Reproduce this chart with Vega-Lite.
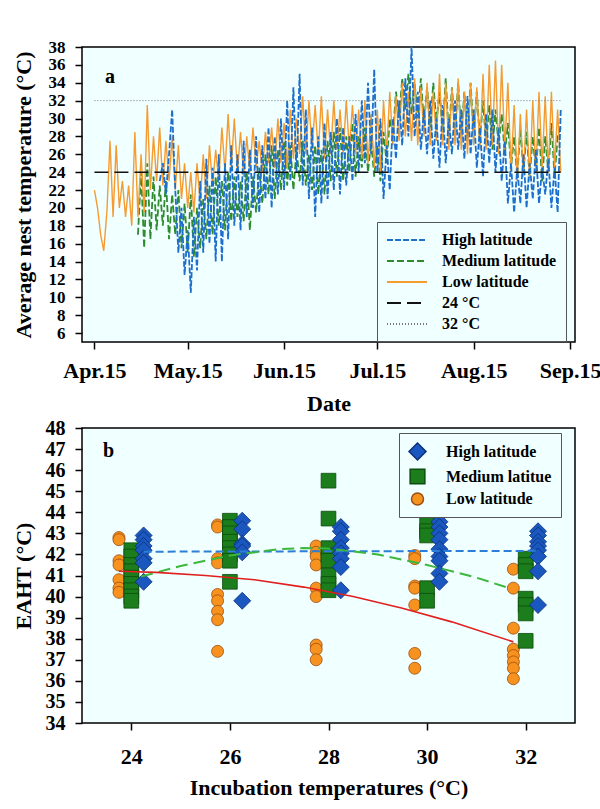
{
  "$schema": "https://vega.github.io/schema/vega-lite/v6.json",
  "padding": {"left": 11, "top": 37, "right": 2, "bottom": 2},
  "spacing": 2,
  "config": {
    "font": "Liberation Serif",
    "background": "white",
    "view": {"stroke": "#000", "strokeWidth": 1.5, "fill": "#f0ffff"},
    "axis": {
      "labelFont": "Liberation Serif", "titleFont": "Liberation Serif",
      "labelFontSize": 22, "titleFontSize": 22,
      "labelFontWeight": "bold", "titleFontWeight": "bold",
      "labelColor": "#000", "titleColor": "#000",
      "tickColor": "#000", "tickWidth": 1.5, "tickSize": 7,
      "domain": false, "grid": false, "labelPadding": 10, "labelFlush": false
    },
    "axisY": {"titlePadding": 9, "labelOverlap": false, "minExtent": 38},
    "legend": {
      "labelFont": "Liberation Serif", "labelFontSize": 16, "labelFontWeight": "bold",
      "labelColor": "#000", "strokeColor": "#555", "fillColor": "#f0ffff",
      "padding": 8, "rowPadding": 4, "labelLimit": 300
    }
  },
  "resolve": {
    "scale": {"color": "independent", "strokeDash": "independent", "shape": "independent", "size": "independent", "stroke": "independent"},
    "legend": {"color": "independent", "strokeDash": "independent", "shape": "independent", "size": "independent", "stroke": "independent"}
  },
  "datasets": {
    "ts": [
      {"s":"Low latitude","d":"2015-04-15","t":22},{"s":"Low latitude","d":"2015-04-16","t":20},{"s":"Low latitude","d":"2015-04-17","t":17},{"s":"Low latitude","d":"2015-04-18","t":15.2},
      {"s":"Low latitude","d":"2015-04-19","t":19.5},{"s":"Low latitude","d":"2015-04-20","t":27.5},{"s":"Low latitude","d":"2015-04-21","t":19},{"s":"Low latitude","d":"2015-04-22","t":27},
      {"s":"Low latitude","d":"2015-04-23","t":20},{"s":"Low latitude","d":"2015-04-24","t":23},{"s":"Low latitude","d":"2015-04-25","t":19},{"s":"Low latitude","d":"2015-04-26","t":22.5},
      {"s":"Low latitude","d":"2015-04-27","t":18},{"s":"Low latitude","d":"2015-04-28","t":28.5},{"s":"Low latitude","d":"2015-04-29","t":19},{"s":"Low latitude","d":"2015-04-30","t":26},
      {"s":"Low latitude","d":"2015-05-01","t":19.5},{"s":"Low latitude","d":"2015-05-02","t":31.5},{"s":"Low latitude","d":"2015-05-03","t":22},{"s":"Low latitude","d":"2015-05-04","t":28},
      {"s":"Low latitude","d":"2015-05-05","t":23},{"s":"Low latitude","d":"2015-05-06","t":29},{"s":"Low latitude","d":"2015-05-07","t":22.5},{"s":"Low latitude","d":"2015-05-08","t":27.5},
      {"s":"Low latitude","d":"2015-05-09","t":23},{"s":"Low latitude","d":"2015-05-10","t":28},{"s":"Low latitude","d":"2015-05-11","t":22},{"s":"Low latitude","d":"2015-05-12","t":27},
      {"s":"Low latitude","d":"2015-05-13","t":21},{"s":"Low latitude","d":"2015-05-14","t":25},{"s":"Low latitude","d":"2015-05-15","t":20},{"s":"Low latitude","d":"2015-05-16","t":24},
      {"s":"Low latitude","d":"2015-05-17","t":19.5},{"s":"Low latitude","d":"2015-05-18","t":25},{"s":"Low latitude","d":"2015-05-19","t":20.5},{"s":"Low latitude","d":"2015-05-20","t":26},
      {"s":"Low latitude","d":"2015-05-21","t":21},{"s":"Low latitude","d":"2015-05-22","t":27},{"s":"Low latitude","d":"2015-05-23","t":22.5},{"s":"Low latitude","d":"2015-05-24","t":26.5},
      {"s":"Low latitude","d":"2015-05-25","t":23},{"s":"Low latitude","d":"2015-05-26","t":29},{"s":"Low latitude","d":"2015-05-27","t":24},{"s":"Low latitude","d":"2015-05-28","t":30.5},
      {"s":"Low latitude","d":"2015-05-29","t":24.5},{"s":"Low latitude","d":"2015-05-30","t":30},{"s":"Low latitude","d":"2015-05-31","t":24},
      {"s":"Low latitude","d":"2015-06-01","t":28.5},{"s":"Low latitude","d":"2015-06-02","t":23.5},{"s":"Low latitude","d":"2015-06-03","t":28},{"s":"Low latitude","d":"2015-06-04","t":24},
      {"s":"Low latitude","d":"2015-06-05","t":29},{"s":"Low latitude","d":"2015-06-06","t":24.5},{"s":"Low latitude","d":"2015-06-07","t":27.5},{"s":"Low latitude","d":"2015-06-08","t":24},
      {"s":"Low latitude","d":"2015-06-09","t":28.5},{"s":"Low latitude","d":"2015-06-10","t":25},{"s":"Low latitude","d":"2015-06-11","t":29},{"s":"Low latitude","d":"2015-06-12","t":24.5},
      {"s":"Low latitude","d":"2015-06-13","t":30},{"s":"Low latitude","d":"2015-06-14","t":25},{"s":"Low latitude","d":"2015-06-15","t":29.5},{"s":"Low latitude","d":"2015-06-16","t":24.5},
      {"s":"Low latitude","d":"2015-06-17","t":31},{"s":"Low latitude","d":"2015-06-18","t":25.5},{"s":"Low latitude","d":"2015-06-19","t":30},{"s":"Low latitude","d":"2015-06-20","t":26},
      {"s":"Low latitude","d":"2015-06-21","t":32.5},{"s":"Low latitude","d":"2015-06-22","t":26},{"s":"Low latitude","d":"2015-06-23","t":32},{"s":"Low latitude","d":"2015-06-24","t":26.5},
      {"s":"Low latitude","d":"2015-06-25","t":31.5},{"s":"Low latitude","d":"2015-06-26","t":26},{"s":"Low latitude","d":"2015-06-27","t":32.5},{"s":"Low latitude","d":"2015-06-28","t":25.5},
      {"s":"Low latitude","d":"2015-06-29","t":31},{"s":"Low latitude","d":"2015-06-30","t":26},
      {"s":"Low latitude","d":"2015-07-01","t":32},{"s":"Low latitude","d":"2015-07-02","t":26.5},{"s":"Low latitude","d":"2015-07-03","t":31},{"s":"Low latitude","d":"2015-07-04","t":26},
      {"s":"Low latitude","d":"2015-07-05","t":32},{"s":"Low latitude","d":"2015-07-06","t":26.5},{"s":"Low latitude","d":"2015-07-07","t":31.5},{"s":"Low latitude","d":"2015-07-08","t":26},
      {"s":"Low latitude","d":"2015-07-09","t":31},{"s":"Low latitude","d":"2015-07-10","t":25.5},{"s":"Low latitude","d":"2015-07-11","t":32},{"s":"Low latitude","d":"2015-07-12","t":25},
      {"s":"Low latitude","d":"2015-07-13","t":30.5},{"s":"Low latitude","d":"2015-07-14","t":24.5},{"s":"Low latitude","d":"2015-07-15","t":31},{"s":"Low latitude","d":"2015-07-16","t":24},
      {"s":"Low latitude","d":"2015-07-17","t":32},{"s":"Low latitude","d":"2015-07-18","t":26},{"s":"Low latitude","d":"2015-07-19","t":33},{"s":"Low latitude","d":"2015-07-20","t":27},
      {"s":"Low latitude","d":"2015-07-21","t":32.5},{"s":"Low latitude","d":"2015-07-22","t":27.5},{"s":"Low latitude","d":"2015-07-23","t":34},{"s":"Low latitude","d":"2015-07-24","t":28},
      {"s":"Low latitude","d":"2015-07-25","t":33},{"s":"Low latitude","d":"2015-07-26","t":27.5},{"s":"Low latitude","d":"2015-07-27","t":34.5},{"s":"Low latitude","d":"2015-07-28","t":27},
      {"s":"Low latitude","d":"2015-07-29","t":33.5},{"s":"Low latitude","d":"2015-07-30","t":28},{"s":"Low latitude","d":"2015-07-31","t":34},
      {"s":"Low latitude","d":"2015-08-01","t":27},{"s":"Low latitude","d":"2015-08-02","t":33},{"s":"Low latitude","d":"2015-08-03","t":27.5},{"s":"Low latitude","d":"2015-08-04","t":35},
      {"s":"Low latitude","d":"2015-08-05","t":27},{"s":"Low latitude","d":"2015-08-06","t":34},{"s":"Low latitude","d":"2015-08-07","t":26.5},{"s":"Low latitude","d":"2015-08-08","t":33.5},
      {"s":"Low latitude","d":"2015-08-09","t":27},{"s":"Low latitude","d":"2015-08-10","t":34.5},{"s":"Low latitude","d":"2015-08-11","t":26.5},{"s":"Low latitude","d":"2015-08-12","t":33},
      {"s":"Low latitude","d":"2015-08-13","t":26},{"s":"Low latitude","d":"2015-08-14","t":34},{"s":"Low latitude","d":"2015-08-15","t":27},{"s":"Low latitude","d":"2015-08-16","t":33.5},
      {"s":"Low latitude","d":"2015-08-17","t":26.5},{"s":"Low latitude","d":"2015-08-18","t":35},{"s":"Low latitude","d":"2015-08-19","t":26.5},{"s":"Low latitude","d":"2015-08-20","t":36},
      {"s":"Low latitude","d":"2015-08-21","t":27},{"s":"Low latitude","d":"2015-08-22","t":36.5},{"s":"Low latitude","d":"2015-08-23","t":26},{"s":"Low latitude","d":"2015-08-24","t":36},
      {"s":"Low latitude","d":"2015-08-25","t":26.5},{"s":"Low latitude","d":"2015-08-26","t":34},{"s":"Low latitude","d":"2015-08-27","t":24},{"s":"Low latitude","d":"2015-08-28","t":31.5},
      {"s":"Low latitude","d":"2015-08-29","t":23},{"s":"Low latitude","d":"2015-08-30","t":30.5},{"s":"Low latitude","d":"2015-08-31","t":23.5},
      {"s":"Low latitude","d":"2015-09-01","t":31},{"s":"Low latitude","d":"2015-09-02","t":23},{"s":"Low latitude","d":"2015-09-03","t":32},{"s":"Low latitude","d":"2015-09-04","t":24},
      {"s":"Low latitude","d":"2015-09-05","t":33},{"s":"Low latitude","d":"2015-09-06","t":24.5},{"s":"Low latitude","d":"2015-09-07","t":32.5},{"s":"Low latitude","d":"2015-09-08","t":24},
      {"s":"Low latitude","d":"2015-09-09","t":33},{"s":"Low latitude","d":"2015-09-10","t":24.5},{"s":"Low latitude","d":"2015-09-11","t":31},{"s":"Low latitude","d":"2015-09-12","t":24},

      {"s":"Medium latitude","d":"2015-04-29","t":17},{"s":"Medium latitude","d":"2015-04-30","t":24},
      {"s":"Medium latitude","d":"2015-05-01","t":15.5},{"s":"Medium latitude","d":"2015-05-02","t":25},{"s":"Medium latitude","d":"2015-05-03","t":16.5},{"s":"Medium latitude","d":"2015-05-04","t":23.5},
      {"s":"Medium latitude","d":"2015-05-05","t":17.5},{"s":"Medium latitude","d":"2015-05-06","t":22.5},{"s":"Medium latitude","d":"2015-05-07","t":18},{"s":"Medium latitude","d":"2015-05-08","t":23},
      {"s":"Medium latitude","d":"2015-05-09","t":16.5},{"s":"Medium latitude","d":"2015-05-10","t":21.5},{"s":"Medium latitude","d":"2015-05-11","t":17},{"s":"Medium latitude","d":"2015-05-12","t":22},
      {"s":"Medium latitude","d":"2015-05-13","t":15.5},{"s":"Medium latitude","d":"2015-05-14","t":20.5},{"s":"Medium latitude","d":"2015-05-15","t":15},{"s":"Medium latitude","d":"2015-05-16","t":21.5},
      {"s":"Medium latitude","d":"2015-05-17","t":14.5},{"s":"Medium latitude","d":"2015-05-18","t":20},{"s":"Medium latitude","d":"2015-05-19","t":15.5},{"s":"Medium latitude","d":"2015-05-20","t":21},
      {"s":"Medium latitude","d":"2015-05-21","t":16.5},{"s":"Medium latitude","d":"2015-05-22","t":22.5},{"s":"Medium latitude","d":"2015-05-23","t":17},{"s":"Medium latitude","d":"2015-05-24","t":23.5},
      {"s":"Medium latitude","d":"2015-05-25","t":18},{"s":"Medium latitude","d":"2015-05-26","t":23},{"s":"Medium latitude","d":"2015-05-27","t":17.5},{"s":"Medium latitude","d":"2015-05-28","t":24},
      {"s":"Medium latitude","d":"2015-05-29","t":18.5},{"s":"Medium latitude","d":"2015-05-30","t":23.5},{"s":"Medium latitude","d":"2015-05-31","t":19},
      {"s":"Medium latitude","d":"2015-06-01","t":23},{"s":"Medium latitude","d":"2015-06-02","t":18.5},{"s":"Medium latitude","d":"2015-06-03","t":24},{"s":"Medium latitude","d":"2015-06-04","t":17.5},
      {"s":"Medium latitude","d":"2015-06-05","t":23.5},{"s":"Medium latitude","d":"2015-06-06","t":19.5},{"s":"Medium latitude","d":"2015-06-07","t":24.5},{"s":"Medium latitude","d":"2015-06-08","t":20.5},
      {"s":"Medium latitude","d":"2015-06-09","t":26},{"s":"Medium latitude","d":"2015-06-10","t":21.5},{"s":"Medium latitude","d":"2015-06-11","t":27},{"s":"Medium latitude","d":"2015-06-12","t":21},
      {"s":"Medium latitude","d":"2015-06-13","t":26.5},{"s":"Medium latitude","d":"2015-06-14","t":22},{"s":"Medium latitude","d":"2015-06-15","t":27.5},{"s":"Medium latitude","d":"2015-06-16","t":22.5},
      {"s":"Medium latitude","d":"2015-06-17","t":27},{"s":"Medium latitude","d":"2015-06-18","t":22},{"s":"Medium latitude","d":"2015-06-19","t":26.5},{"s":"Medium latitude","d":"2015-06-20","t":23},
      {"s":"Medium latitude","d":"2015-06-21","t":27.5},{"s":"Medium latitude","d":"2015-06-22","t":22.5},{"s":"Medium latitude","d":"2015-06-23","t":26},{"s":"Medium latitude","d":"2015-06-24","t":22},
      {"s":"Medium latitude","d":"2015-06-25","t":27},{"s":"Medium latitude","d":"2015-06-26","t":21.5},{"s":"Medium latitude","d":"2015-06-27","t":26.5},{"s":"Medium latitude","d":"2015-06-28","t":21.5},
      {"s":"Medium latitude","d":"2015-06-29","t":27.5},{"s":"Medium latitude","d":"2015-06-30","t":23},
      {"s":"Medium latitude","d":"2015-07-01","t":28.5},{"s":"Medium latitude","d":"2015-07-02","t":23.5},{"s":"Medium latitude","d":"2015-07-03","t":29},{"s":"Medium latitude","d":"2015-07-04","t":23},
      {"s":"Medium latitude","d":"2015-07-05","t":28},{"s":"Medium latitude","d":"2015-07-06","t":24},{"s":"Medium latitude","d":"2015-07-07","t":29.5},{"s":"Medium latitude","d":"2015-07-08","t":23.5},
      {"s":"Medium latitude","d":"2015-07-09","t":28},{"s":"Medium latitude","d":"2015-07-10","t":24.5},{"s":"Medium latitude","d":"2015-07-11","t":29},{"s":"Medium latitude","d":"2015-07-12","t":24},
      {"s":"Medium latitude","d":"2015-07-13","t":27.5},{"s":"Medium latitude","d":"2015-07-14","t":23.5},{"s":"Medium latitude","d":"2015-07-15","t":27},{"s":"Medium latitude","d":"2015-07-16","t":23},
      {"s":"Medium latitude","d":"2015-07-17","t":28.5},{"s":"Medium latitude","d":"2015-07-18","t":25},{"s":"Medium latitude","d":"2015-07-19","t":30},{"s":"Medium latitude","d":"2015-07-20","t":28},
      {"s":"Medium latitude","d":"2015-07-21","t":33},{"s":"Medium latitude","d":"2015-07-22","t":30},{"s":"Medium latitude","d":"2015-07-23","t":34.5},{"s":"Medium latitude","d":"2015-07-24","t":31},
      {"s":"Medium latitude","d":"2015-07-25","t":35},{"s":"Medium latitude","d":"2015-07-26","t":30.5},{"s":"Medium latitude","d":"2015-07-27","t":34},{"s":"Medium latitude","d":"2015-07-28","t":30},
      {"s":"Medium latitude","d":"2015-07-29","t":34.5},{"s":"Medium latitude","d":"2015-07-30","t":29.5},{"s":"Medium latitude","d":"2015-07-31","t":33.5},
      {"s":"Medium latitude","d":"2015-08-01","t":29},{"s":"Medium latitude","d":"2015-08-02","t":34},{"s":"Medium latitude","d":"2015-08-03","t":29.5},{"s":"Medium latitude","d":"2015-08-04","t":33},
      {"s":"Medium latitude","d":"2015-08-05","t":28.5},{"s":"Medium latitude","d":"2015-08-06","t":34.5},{"s":"Medium latitude","d":"2015-08-07","t":28},{"s":"Medium latitude","d":"2015-08-08","t":33.5},
      {"s":"Medium latitude","d":"2015-08-09","t":28.5},{"s":"Medium latitude","d":"2015-08-10","t":34},{"s":"Medium latitude","d":"2015-08-11","t":28},{"s":"Medium latitude","d":"2015-08-12","t":33},
      {"s":"Medium latitude","d":"2015-08-13","t":27.5},{"s":"Medium latitude","d":"2015-08-14","t":34},{"s":"Medium latitude","d":"2015-08-15","t":28},{"s":"Medium latitude","d":"2015-08-16","t":33},
      {"s":"Medium latitude","d":"2015-08-17","t":27.5},{"s":"Medium latitude","d":"2015-08-18","t":32},{"s":"Medium latitude","d":"2015-08-19","t":27},{"s":"Medium latitude","d":"2015-08-20","t":31.5},
      {"s":"Medium latitude","d":"2015-08-21","t":26.5},{"s":"Medium latitude","d":"2015-08-22","t":31},{"s":"Medium latitude","d":"2015-08-23","t":27},{"s":"Medium latitude","d":"2015-08-24","t":30.5},
      {"s":"Medium latitude","d":"2015-08-25","t":26},{"s":"Medium latitude","d":"2015-08-26","t":29.5},{"s":"Medium latitude","d":"2015-08-27","t":24.5},{"s":"Medium latitude","d":"2015-08-28","t":28},
      {"s":"Medium latitude","d":"2015-08-29","t":23.5},{"s":"Medium latitude","d":"2015-08-30","t":29},{"s":"Medium latitude","d":"2015-08-31","t":24},
      {"s":"Medium latitude","d":"2015-09-01","t":28.5},{"s":"Medium latitude","d":"2015-09-02","t":23.5},{"s":"Medium latitude","d":"2015-09-03","t":28},{"s":"Medium latitude","d":"2015-09-04","t":24},
      {"s":"Medium latitude","d":"2015-09-05","t":29},{"s":"Medium latitude","d":"2015-09-06","t":23},{"s":"Medium latitude","d":"2015-09-07","t":28},{"s":"Medium latitude","d":"2015-09-08","t":24},
      {"s":"Medium latitude","d":"2015-09-09","t":29.5},{"s":"Medium latitude","d":"2015-09-10","t":23.5},{"s":"Medium latitude","d":"2015-09-11","t":28},{"s":"Medium latitude","d":"2015-09-12","t":29},

      {"s":"High latitude","d":"2015-05-06","t":23},{"s":"High latitude","d":"2015-05-07","t":25},{"s":"High latitude","d":"2015-05-08","t":21.5},{"s":"High latitude","d":"2015-05-09","t":26},
      {"s":"High latitude","d":"2015-05-10","t":31},{"s":"High latitude","d":"2015-05-11","t":22},{"s":"High latitude","d":"2015-05-12","t":15},{"s":"High latitude","d":"2015-05-13","t":20},
      {"s":"High latitude","d":"2015-05-14","t":12.5},{"s":"High latitude","d":"2015-05-15","t":17.5},{"s":"High latitude","d":"2015-05-16","t":10.5},{"s":"High latitude","d":"2015-05-17","t":19},
      {"s":"High latitude","d":"2015-05-18","t":13},{"s":"High latitude","d":"2015-05-19","t":23},{"s":"High latitude","d":"2015-05-20","t":15},{"s":"High latitude","d":"2015-05-21","t":25.5},
      {"s":"High latitude","d":"2015-05-22","t":16},{"s":"High latitude","d":"2015-05-23","t":24.5},{"s":"High latitude","d":"2015-05-24","t":14},{"s":"High latitude","d":"2015-05-25","t":26},
      {"s":"High latitude","d":"2015-05-26","t":14},{"s":"High latitude","d":"2015-05-27","t":25},{"s":"High latitude","d":"2015-05-28","t":16.5},{"s":"High latitude","d":"2015-05-29","t":27},
      {"s":"High latitude","d":"2015-05-30","t":18},{"s":"High latitude","d":"2015-05-31","t":26},
      {"s":"High latitude","d":"2015-06-01","t":17.5},{"s":"High latitude","d":"2015-06-02","t":27.5},{"s":"High latitude","d":"2015-06-03","t":19},{"s":"High latitude","d":"2015-06-04","t":26.5},
      {"s":"High latitude","d":"2015-06-05","t":20},{"s":"High latitude","d":"2015-06-06","t":28},{"s":"High latitude","d":"2015-06-07","t":19.5},{"s":"High latitude","d":"2015-06-08","t":27},
      {"s":"High latitude","d":"2015-06-09","t":21},{"s":"High latitude","d":"2015-06-10","t":29},{"s":"High latitude","d":"2015-06-11","t":20},{"s":"High latitude","d":"2015-06-12","t":28},
      {"s":"High latitude","d":"2015-06-13","t":21.5},{"s":"High latitude","d":"2015-06-14","t":30},{"s":"High latitude","d":"2015-06-15","t":22},{"s":"High latitude","d":"2015-06-16","t":32},
      {"s":"High latitude","d":"2015-06-17","t":23},{"s":"High latitude","d":"2015-06-18","t":33.5},{"s":"High latitude","d":"2015-06-19","t":24},{"s":"High latitude","d":"2015-06-20","t":35},
      {"s":"High latitude","d":"2015-06-21","t":22.5},{"s":"High latitude","d":"2015-06-22","t":31},{"s":"High latitude","d":"2015-06-23","t":21},{"s":"High latitude","d":"2015-06-24","t":29},
      {"s":"High latitude","d":"2015-06-25","t":19},{"s":"High latitude","d":"2015-06-26","t":28},{"s":"High latitude","d":"2015-06-27","t":20.5},{"s":"High latitude","d":"2015-06-28","t":29.5},
      {"s":"High latitude","d":"2015-06-29","t":21},{"s":"High latitude","d":"2015-06-30","t":28.5},
      {"s":"High latitude","d":"2015-07-01","t":22},{"s":"High latitude","d":"2015-07-02","t":30},{"s":"High latitude","d":"2015-07-03","t":21.5},{"s":"High latitude","d":"2015-07-04","t":29},
      {"s":"High latitude","d":"2015-07-05","t":22.5},{"s":"High latitude","d":"2015-07-06","t":28},{"s":"High latitude","d":"2015-07-07","t":23},{"s":"High latitude","d":"2015-07-08","t":30.5},
      {"s":"High latitude","d":"2015-07-09","t":24},{"s":"High latitude","d":"2015-07-10","t":32},{"s":"High latitude","d":"2015-07-11","t":25},{"s":"High latitude","d":"2015-07-12","t":34},
      {"s":"High latitude","d":"2015-07-13","t":26},{"s":"High latitude","d":"2015-07-14","t":35.5},{"s":"High latitude","d":"2015-07-15","t":24},{"s":"High latitude","d":"2015-07-16","t":30},
      {"s":"High latitude","d":"2015-07-17","t":21},{"s":"High latitude","d":"2015-07-18","t":27},{"s":"High latitude","d":"2015-07-19","t":22},{"s":"High latitude","d":"2015-07-20","t":30},
      {"s":"High latitude","d":"2015-07-21","t":25.5},{"s":"High latitude","d":"2015-07-22","t":32},{"s":"High latitude","d":"2015-07-23","t":27},{"s":"High latitude","d":"2015-07-24","t":34.5},
      {"s":"High latitude","d":"2015-07-25","t":28},{"s":"High latitude","d":"2015-07-26","t":38},{"s":"High latitude","d":"2015-07-27","t":28},{"s":"High latitude","d":"2015-07-28","t":33},
      {"s":"High latitude","d":"2015-07-29","t":26.5},{"s":"High latitude","d":"2015-07-30","t":31},{"s":"High latitude","d":"2015-07-31","t":26},
      {"s":"High latitude","d":"2015-08-01","t":32},{"s":"High latitude","d":"2015-08-02","t":25.5},{"s":"High latitude","d":"2015-08-03","t":30},{"s":"High latitude","d":"2015-08-04","t":24.5},
      {"s":"High latitude","d":"2015-08-05","t":31.5},{"s":"High latitude","d":"2015-08-06","t":25},{"s":"High latitude","d":"2015-08-07","t":30},{"s":"High latitude","d":"2015-08-08","t":26},
      {"s":"High latitude","d":"2015-08-09","t":32},{"s":"High latitude","d":"2015-08-10","t":26.5},{"s":"High latitude","d":"2015-08-11","t":31},{"s":"High latitude","d":"2015-08-12","t":25.5},
      {"s":"High latitude","d":"2015-08-13","t":32.5},{"s":"High latitude","d":"2015-08-14","t":26},{"s":"High latitude","d":"2015-08-15","t":31},{"s":"High latitude","d":"2015-08-16","t":24.5},
      {"s":"High latitude","d":"2015-08-17","t":29},{"s":"High latitude","d":"2015-08-18","t":23.5},{"s":"High latitude","d":"2015-08-19","t":30.5},{"s":"High latitude","d":"2015-08-20","t":25},
      {"s":"High latitude","d":"2015-08-21","t":31},{"s":"High latitude","d":"2015-08-22","t":24},{"s":"High latitude","d":"2015-08-23","t":29},{"s":"High latitude","d":"2015-08-24","t":23},
      {"s":"High latitude","d":"2015-08-25","t":27.5},{"s":"High latitude","d":"2015-08-26","t":20.5},{"s":"High latitude","d":"2015-08-27","t":25},{"s":"High latitude","d":"2015-08-28","t":19.5},
      {"s":"High latitude","d":"2015-08-29","t":24.5},{"s":"High latitude","d":"2015-08-30","t":20.5},{"s":"High latitude","d":"2015-08-31","t":26},
      {"s":"High latitude","d":"2015-09-01","t":20},{"s":"High latitude","d":"2015-09-02","t":25},{"s":"High latitude","d":"2015-09-03","t":21},{"s":"High latitude","d":"2015-09-04","t":26.5},
      {"s":"High latitude","d":"2015-09-05","t":20.5},{"s":"High latitude","d":"2015-09-06","t":24.5},{"s":"High latitude","d":"2015-09-07","t":21.5},{"s":"High latitude","d":"2015-09-08","t":25.5},
      {"s":"High latitude","d":"2015-09-09","t":20},{"s":"High latitude","d":"2015-09-10","t":24.5},{"s":"High latitude","d":"2015-09-11","t":19.5},{"s":"High latitude","d":"2015-09-12","t":31},

      {"s":"24 °C","d":"2015-04-15","t":24},{"s":"24 °C","d":"2015-09-12","t":24},
      {"s":"32 °C","d":"2015-04-15","t":32},{"s":"32 °C","d":"2015-09-12","t":32}
    ],
    "pts": [
      {"lat":"Low latitude","x":23.75,"y":42.8},{"lat":"Low latitude","x":23.75,"y":42.7},{"lat":"Low latitude","x":23.75,"y":41.7},{"lat":"Low latitude","x":23.75,"y":41.5},
      {"lat":"Low latitude","x":23.75,"y":40.8},{"lat":"Low latitude","x":23.75,"y":40.4},{"lat":"Low latitude","x":23.75,"y":40.2},
      {"lat":"Low latitude","x":25.75,"y":43.4},{"lat":"Low latitude","x":25.75,"y":43.3},{"lat":"Low latitude","x":25.75,"y":41.8},{"lat":"Low latitude","x":25.75,"y":41.6},
      {"lat":"Low latitude","x":25.75,"y":40.1},{"lat":"Low latitude","x":25.75,"y":39.8},{"lat":"Low latitude","x":25.75,"y":39.3},{"lat":"Low latitude","x":25.75,"y":38.9},
      {"lat":"Low latitude","x":25.75,"y":37.4},
      {"lat":"Low latitude","x":27.75,"y":42.4},{"lat":"Low latitude","x":27.75,"y":42.1},{"lat":"Low latitude","x":27.75,"y":41.9},{"lat":"Low latitude","x":27.75,"y":41.5},
      {"lat":"Low latitude","x":27.75,"y":40.4},{"lat":"Low latitude","x":27.75,"y":40.0},{"lat":"Low latitude","x":27.75,"y":37.7},{"lat":"Low latitude","x":27.75,"y":37.5},
      {"lat":"Low latitude","x":27.75,"y":37.0},
      {"lat":"Low latitude","x":29.75,"y":41.95},{"lat":"Low latitude","x":29.75,"y":41.8},{"lat":"Low latitude","x":29.75,"y":40.5},{"lat":"Low latitude","x":29.75,"y":40.4},
      {"lat":"Low latitude","x":29.75,"y":39.6},{"lat":"Low latitude","x":29.75,"y":37.3},{"lat":"Low latitude","x":29.75,"y":36.6},
      {"lat":"Low latitude","x":31.75,"y":41.3},{"lat":"Low latitude","x":31.75,"y":40.4},{"lat":"Low latitude","x":31.75,"y":38.5},{"lat":"Low latitude","x":31.75,"y":37.5},
      {"lat":"Low latitude","x":31.75,"y":37.2},{"lat":"Low latitude","x":31.75,"y":36.9},{"lat":"Low latitude","x":31.75,"y":36.6},{"lat":"Low latitude","x":31.75,"y":36.1},

      {"lat":"Medium latitue","x":24,"y":42.2},{"lat":"Medium latitue","x":24,"y":41.9},{"lat":"Medium latitue","x":24,"y":41.5},{"lat":"Medium latitue","x":24,"y":41.2},
      {"lat":"Medium latitue","x":24,"y":40.9},{"lat":"Medium latitue","x":24,"y":40.6},{"lat":"Medium latitue","x":24,"y":40.3},{"lat":"Medium latitue","x":24,"y":40.0},
      {"lat":"Medium latitue","x":24,"y":39.8},
      {"lat":"Medium latitue","x":26,"y":43.6},{"lat":"Medium latitue","x":26,"y":43.3},{"lat":"Medium latitue","x":26,"y":43.0},{"lat":"Medium latitue","x":26,"y":42.6},
      {"lat":"Medium latitue","x":26,"y":42.3},{"lat":"Medium latitue","x":26,"y":42.0},{"lat":"Medium latitue","x":26,"y":41.7},{"lat":"Medium latitue","x":26,"y":40.7},
      {"lat":"Medium latitue","x":28,"y":45.5},{"lat":"Medium latitue","x":28,"y":43.7},{"lat":"Medium latitue","x":28,"y":42.3},{"lat":"Medium latitue","x":28,"y":41.95},
      {"lat":"Medium latitue","x":28,"y":41.7},{"lat":"Medium latitue","x":28,"y":41.0},{"lat":"Medium latitue","x":28,"y":40.6},{"lat":"Medium latitue","x":28,"y":40.3},
      {"lat":"Medium latitue","x":30,"y":43.4},{"lat":"Medium latitue","x":30,"y":43.1},{"lat":"Medium latitue","x":30,"y":42.9},{"lat":"Medium latitue","x":30,"y":40.4},
      {"lat":"Medium latitue","x":30,"y":39.8},
      {"lat":"Medium latitue","x":32,"y":41.8},{"lat":"Medium latitue","x":32,"y":41.5},{"lat":"Medium latitue","x":32,"y":41.2},{"lat":"Medium latitue","x":32,"y":39.9},
      {"lat":"Medium latitue","x":32,"y":39.6},{"lat":"Medium latitue","x":32,"y":39.2},{"lat":"Medium latitue","x":32,"y":37.9},

      {"lat":"High latitude","x":24.25,"y":42.9},{"lat":"High latitude","x":24.25,"y":42.7},{"lat":"High latitude","x":24.25,"y":42.4},{"lat":"High latitude","x":24.25,"y":42.2},
      {"lat":"High latitude","x":24.25,"y":41.8},{"lat":"High latitude","x":24.25,"y":41.6},{"lat":"High latitude","x":24.25,"y":40.7},
      {"lat":"High latitude","x":26.25,"y":43.6},{"lat":"High latitude","x":26.25,"y":43.2},{"lat":"High latitude","x":26.25,"y":42.5},{"lat":"High latitude","x":26.25,"y":42.4},
      {"lat":"High latitude","x":26.25,"y":42.1},{"lat":"High latitude","x":26.25,"y":39.8},
      {"lat":"High latitude","x":28.25,"y":43.3},{"lat":"High latitude","x":28.25,"y":43.1},{"lat":"High latitude","x":28.25,"y":42.7},{"lat":"High latitude","x":28.25,"y":42.3},
      {"lat":"High latitude","x":28.25,"y":42.05},{"lat":"High latitude","x":28.25,"y":41.8},{"lat":"High latitude","x":28.25,"y":41.4},{"lat":"High latitude","x":28.25,"y":40.3},
      {"lat":"High latitude","x":30.25,"y":43.55},{"lat":"High latitude","x":30.25,"y":43.3},{"lat":"High latitude","x":30.25,"y":43.0},{"lat":"High latitude","x":30.25,"y":42.7},
      {"lat":"High latitude","x":30.25,"y":42.25},{"lat":"High latitude","x":30.25,"y":41.9},{"lat":"High latitude","x":30.25,"y":41.7},{"lat":"High latitude","x":30.25,"y":41.1},
      {"lat":"High latitude","x":30.25,"y":40.7},
      {"lat":"High latitude","x":32.25,"y":43.1},{"lat":"High latitude","x":32.25,"y":42.9},{"lat":"High latitude","x":32.25,"y":42.6},{"lat":"High latitude","x":32.25,"y":42.4},
      {"lat":"High latitude","x":32.25,"y":42.2},{"lat":"High latitude","x":32.25,"y":41.9},{"lat":"High latitude","x":32.25,"y":41.2},{"lat":"High latitude","x":32.25,"y":39.6}
    ],
    "fit": [
      {"f":"High","x":24.25,"y":42.13},{"f":"High","x":32.25,"y":42.17},
      {"f":"Medium","x":24.2,"y":40.95},{"f":"Medium","x":25,"y":41.45},{"f":"Medium","x":26,"y":41.95},{"f":"Medium","x":27,"y":42.25},
      {"f":"Medium","x":27.5,"y":42.3},{"f":"Medium","x":28,"y":42.28},{"f":"Medium","x":29,"y":42.0},{"f":"Medium","x":30,"y":41.5},
      {"f":"Medium","x":31,"y":40.9},{"f":"Medium","x":31.6,"y":40.45},
      {"f":"Low","x":23.75,"y":41.2},{"f":"Low","x":24.5,"y":41.15},{"f":"Low","x":25.5,"y":41.0},{"f":"Low","x":26.5,"y":40.8},
      {"f":"Low","x":27.5,"y":40.45},{"f":"Low","x":28.5,"y":40.0},{"f":"Low","x":29.5,"y":39.45},{"f":"Low","x":30.5,"y":38.8},
      {"f":"Low","x":31.75,"y":37.85}
    ]
  },
  "vconcat": [
    {
      "width": 493,
      "height": 295,
      "encoding": {
        "x": {
          "field": "d", "type": "temporal",
          "scale": {"type": "utc", "domain": [
            {"year": 2015, "month": 4, "date": 11, "utc": true},
            {"year": 2015, "month": 9, "date": 16, "hours": 14, "utc": true}
          ]},
          "axis": {
            "title": "Date",
            "values": [
              {"year": 2015, "month": 4, "date": 15, "utc": true},
              {"year": 2015, "month": 5, "date": 15, "utc": true},
              {"year": 2015, "month": 6, "date": 15, "utc": true},
              {"year": 2015, "month": 7, "date": 15, "utc": true},
              {"year": 2015, "month": 8, "date": 15, "utc": true},
              {"year": 2015, "month": 9, "date": 15, "utc": true}
            ],
            "labelExpr": "utcFormat(datum.value, '%b.%d')",
            "labelPadding": 11, "titlePadding": 12
          }
        },
        "y": {
          "field": "t", "type": "quantitative",
          "scale": {"domain": [5, 38], "nice": false, "zero": false},
          "axis": {"title": "Average nest temperature (°C)", "labelFontSize": 17, "values": [6, 8, 10, 12, 14, 16, 18, 20, 22, 24, 26, 28, 30, 32, 34, 36, 38]}
        }
      },
      "layer": [
        {
          "data": {"name": "ts"},
          "encoding": {
            "color": {
              "field": "s", "type": "nominal",
              "scale": {
                "domain": ["High latitude", "Medium latitude", "Low latitude", "24 °C", "32 °C"],
                "range": ["#1e6fcc", "#2e8b2e", "#f59b30", "#111111", "#777777"]
              },
              "legend": {"title": null, "orient": "none", "legendX": 295, "legendY": 175, "symbolType": "M-1,0L4,0", "symbolSize": 256, "symbolStrokeWidth": 2, "labelOffset": 38, "padding": 9}
            },
            "strokeDash": {
              "field": "s", "type": "nominal",
              "scale": {
                "domain": ["High latitude", "Medium latitude", "Low latitude", "24 °C", "32 °C"],
                "range": [[6, 2], [7, 3], [1, 0], [14, 6], [1, 2]]
              },
              "legend": {"title": null, "orient": "none", "legendX": 295, "legendY": 175, "symbolType": "M-1,0L4,0", "symbolSize": 256, "symbolStrokeWidth": 2, "labelOffset": 38, "padding": 9}
            }
          },
          "layer": [
            {"transform": [{"filter": "datum.s === 'Medium latitude'"}], "mark": {"type": "line", "strokeWidth": 1.8}},
            {"transform": [{"filter": "datum.s === 'Low latitude'"}], "mark": {"type": "line", "strokeWidth": 1.4}},
            {"transform": [{"filter": "datum.s === 'High latitude'"}], "mark": {"type": "line", "strokeWidth": 1.8}},
            {"transform": [{"filter": "datum.s === '24 °C'"}], "mark": {"type": "line", "strokeWidth": 1.5}},
            {"transform": [{"filter": "datum.s === '32 °C'"}], "mark": {"type": "line", "strokeWidth": 1}}
          ]
        },
        {
          "data": {"values": [{"d": "2015-04-20", "t": 34.7, "lab": "a"}]},
          "mark": {"type": "text", "font": "Liberation Serif", "fontSize": 20, "fontWeight": "bold", "color": "#000"},
          "encoding": {"text": {"field": "lab"}}
        }
      ]
    },
    {
      "width": 493,
      "height": 295,
      "encoding": {
        "x": {
          "field": "x", "type": "quantitative",
          "scale": {"domain": [23, 33], "nice": false, "zero": false},
          "axis": {"title": "Incubation temperatures (°C)", "values": [24, 26, 28, 30, 32], "labelPadding": 16, "titlePadding": 10}
        },
        "y": {
          "field": "y", "type": "quantitative",
          "scale": {"domain": [34, 48], "nice": false, "zero": false},
          "axis": {"title": "EAHT (°C)", "labelFontSize": 20, "values": [34, 35, 36, 37, 38, 39, 40, 41, 42, 43, 44, 45, 46, 47, 48]}
        }
      },
      "layer": [
        {
          "data": {"name": "pts"},
          "mark": {"type": "point", "filled": true, "opacity": 1, "strokeWidth": 0.8},
          "encoding": {
            "shape": {
              "field": "lat", "type": "nominal",
              "scale": {"domain": ["High latitude", "Medium latitue", "Low latitude"], "range": ["diamond", "square", "circle"]},
              "legend": {"title": null, "orient": "none", "legendX": 317, "legendY": 5, "labelOffset": 19, "padding": 9, "rowPadding": 3}
            },
            "color": {
              "field": "lat", "type": "nominal",
              "scale": {"domain": ["High latitude", "Medium latitue", "Low latitude"], "range": ["#1a58bf", "#1b7d1b", "#f7921e"]},
              "legend": {"title": null, "orient": "none", "legendX": 317, "legendY": 5, "labelOffset": 19, "padding": 9, "rowPadding": 3}
            },
            "stroke": {
              "field": "lat", "type": "nominal",
              "scale": {"domain": ["High latitude", "Medium latitue", "Low latitude"], "range": ["#0b2f7a", "#0c4d0c", "#9a4e12"]},
              "legend": {"title": null, "orient": "none", "legendX": 317, "legendY": 5, "labelOffset": 19, "padding": 9, "rowPadding": 3}
            },
            "size": {
              "field": "lat", "type": "nominal",
              "scale": {"domain": ["High latitude", "Medium latitue", "Low latitude"], "range": [289, 144, 196]},
              "legend": {"title": null, "orient": "none", "legendX": 317, "legendY": 5, "labelOffset": 19, "padding": 9, "rowPadding": 3}
            }
          }
        },
        {
          "data": {"name": "fit"},
          "transform": [{"filter": "datum.f === 'High'"}],
          "mark": {"type": "line", "color": "#2b7fd6", "strokeDash": [8, 4], "strokeWidth": 2}
        },
        {
          "data": {"name": "fit"},
          "transform": [{"filter": "datum.f === 'Medium'"}],
          "mark": {"type": "line", "color": "#3cb83c", "strokeDash": [12, 6], "strokeWidth": 2}
        },
        {
          "data": {"name": "fit"},
          "transform": [{"filter": "datum.f === 'Low'"}],
          "mark": {"type": "line", "color": "#e0201e", "strokeWidth": 1.6}
        },
        {
          "data": {"values": [{"x": 23.54, "y": 46.9, "lab": "b"}]},
          "mark": {"type": "text", "font": "Liberation Serif", "fontSize": 20, "fontWeight": "bold", "color": "#000"},
          "encoding": {"text": {"field": "lab"}}
        }
      ]
    }
  ]
}
